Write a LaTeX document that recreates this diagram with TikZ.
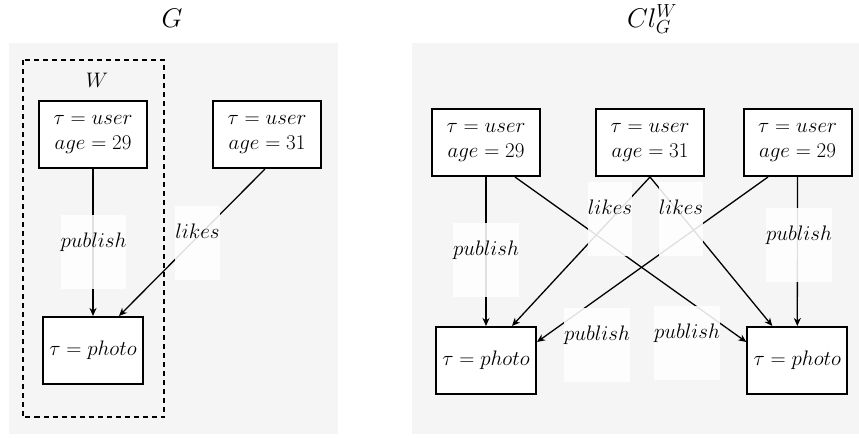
\documentclass[tikz,border=0pt]{standalone}
\usepackage{fix-cm}
\usetikzlibrary{arrows.meta,calc}
\definecolor{bgpanel}{RGB}{245,245,245}
\begin{document}
\begin{tikzpicture}[x=1pt,y=-1pt,
  box/.style={draw=black,line width=2pt,fill=white,minimum height=67pt,inner sep=0pt,align=center,font=\fontsize{21}{25}\selectfont},
  userbox/.style={box,minimum width=108pt},
  photobox/.style={box,minimum width=100pt},
  conn/.style={line width=1.3pt,-{Stealth[length=8pt,width=7pt,inset=2.5pt]}},
  lbl/.style={fill=white,fill opacity=0.88,text opacity=1,inner sep=0pt,anchor=base,text height=32pt,text depth=42pt,font=\fontsize{21}{25}\selectfont},
  title/.style={anchor=base,inner sep=0pt,font=\fontsize{27}{30}\selectfont}]
\useasboundingbox (0,0) rectangle (859,437);
% panels
\fill[bgpanel] (9,43) rectangle (338,434);
\fill[bgpanel] (412,43) rectangle (859,434);
% titles
\node[title] (tG) at (172,27) {$G$};
\node[title] (tC) at (652,27) {$Cl_G^W$};
% left panel
\draw[line width=2pt,dash pattern=on 5pt off 4pt] (22.5,60) rectangle (164,417);
\node[anchor=base,inner sep=0pt,font=\fontsize{21}{25}\selectfont] (W) at (97,87) {$W$};
\node[userbox] (lu1) at (93,134.5) {$\tau = user$\\$age = 29$};
\node[userbox] (lu2) at (267,134.5) {$\tau = user$\\$age = 31$};
\node[photobox] (lp) at (93,350.5) {$\tau = photo$};
\draw[conn] (lu1.south) -- (lp.north);
\draw[conn] ($(lu2.south)+(-2,0)$) -- ($(lp.north)+(26,0)$);
\node[lbl] (llpub) at (93.5,247) {$publish$};
\node[lbl] (lllik) at (197.5,238) {$likes$};
% right panel
\node[userbox] (ra) at (486,142.5) {$\tau = user$\\$age = 29$};
\node[userbox] (rb) at (650,142.5) {$\tau = user$\\$age = 31$};
\node[userbox] (rc) at (797.5,142.5) {$\tau = user$\\$age = 29$};
\node[photobox] (pa) at (486,360.5) {$\tau = photo$};
\node[photobox] (pb) at (797.3,360.5) {$\tau = photo$};
\draw[conn] (ra.south) -- (pa.north);
\draw[conn] ($(ra.south)+(29,0)$) -- ($(pb.west)+(0,-18.5)$);
\draw[conn] (rb.south) -- ($(pa.north)+(26,0)$);
\draw[conn] (rb.south) -- ($(pb.north)+(-25,0)$);
\draw[conn] ($(rc.south)+(-29.5,0)$) -- ($(pa.east)+(0,-18.5)$);
\draw[conn] (rc.south) -- (pb.north);
\node[lbl] (rl1) at (486,255) {$publish$};
\node[lbl] (rl2) at (610,214) {$likes$};
\node[lbl] (rl3) at (681,214) {$likes$};
\node[lbl] (rl4) at (799,240) {$publish$};
\node[lbl] (rl5) at (597,340) {$publish$};
\node[lbl] (rl6) at (687,338) {$publish$};
\end{tikzpicture}
\end{document}
